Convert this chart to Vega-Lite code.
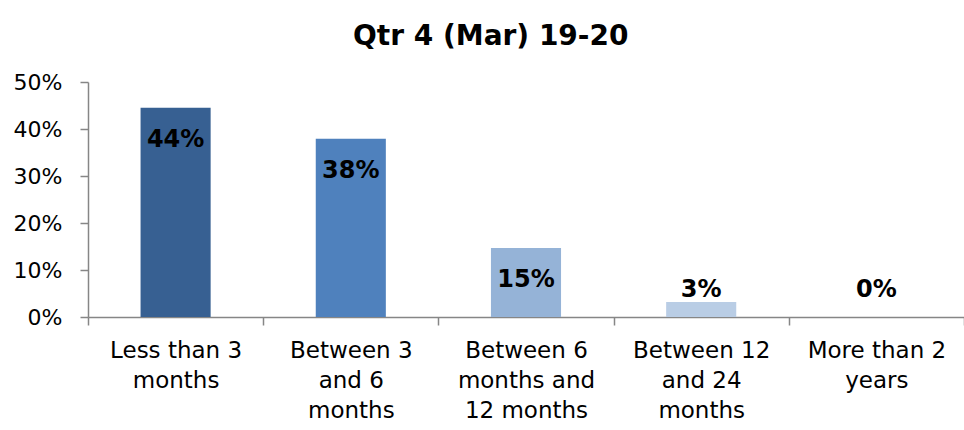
{
  "$schema": "https://vega.github.io/schema/vega-lite/v6.json",
  "autosize": "none",
  "width": 876,
  "height": 235,
  "padding": {"left": 88, "top": 82, "right": 0, "bottom": 113},
  "background": "white",
  "view": {"stroke": null},
  "title": {
    "text": "Qtr 4 (Mar) 19-20",
    "font": "DejaVu Sans",
    "fontSize": 28,
    "fontWeight": "bold",
    "color": "#000000",
    "anchor": "start",
    "frame": "group",
    "dx": 265,
    "offset": 20
  },
  "data": {
    "values": [
      {"cat": "Less than 3|months", "value": 0.445, "label": "44%", "color": "#376092"},
      {"cat": "Between 3|and 6|months", "value": 0.379, "label": "38%", "color": "#4F81BD"},
      {"cat": "Between 6|months and|12 months", "value": 0.147, "label": "15%", "color": "#95B3D7"},
      {"cat": "Between 12|and 24|months", "value": 0.032, "label": "3%", "color": "#B9CDE5"},
      {"cat": "More than 2|years", "value": 0.0, "label": "0%", "color": "#DCE6F2"}
    ]
  },
  "encoding": {
    "x": {
      "field": "cat",
      "type": "nominal",
      "sort": null,
      "scale": {"paddingInner": 0, "paddingOuter": 0},
      "axis": {
        "title": null,
        "labelAngle": 0,
        "labelExpr": "split(datum.label, '|')",
        "labelFont": "DejaVu Sans",
        "labelFontSize": 23,
        "labelLineHeight": 30,
        "labelColor": "#000000",
        "labelPadding": 14,
        "labelLimit": 300,
        "tickBand": "extent",
        "tickSize": 8,
        "tickColor": "#868686",
        "domainColor": "#868686",
        "domainWidth": 1.5,
        "tickWidth": 1.5,
        "grid": false
      }
    }
  },
  "layer": [
    {
      "mark": {"type": "bar", "width": {"band": 0.4}},
      "encoding": {
        "y": {
          "field": "value",
          "type": "quantitative",
          "scale": {"domain": [0, 0.5], "nice": false},
          "axis": {
            "title": null,
            "format": ".0%",
            "values": [0, 0.1, 0.2, 0.3, 0.4, 0.5],
            "labelFont": "DejaVu Sans",
            "labelFontSize": 22,
            "labelColor": "#000000",
            "labelPadding": 18,
            "tickSize": 8,
            "tickColor": "#868686",
            "domainColor": "#868686",
            "domainWidth": 1.5,
            "tickWidth": 1.5,
            "grid": false
          }
        },
        "color": {"field": "color", "type": "nominal", "scale": null}
      }
    },
    {
      "transform": [{"filter": "datum.value > 0.1"}],
      "mark": {"type": "text", "font": "DejaVu Sans", "fontSize": 24, "fontWeight": "bold", "color": "#000000", "baseline": "middle", "dy": 32},
      "encoding": {
        "y": {"field": "value", "type": "quantitative"},
        "text": {"field": "label"}
      }
    },
    {
      "transform": [{"filter": "datum.value <= 0.1"}],
      "mark": {"type": "text", "font": "DejaVu Sans", "fontSize": 24, "fontWeight": "bold", "color": "#000000", "baseline": "middle"},
      "encoding": {
        "y": {"datum": 0.057, "type": "quantitative"},
        "text": {"field": "label"}
      }
    }
  ]
}
